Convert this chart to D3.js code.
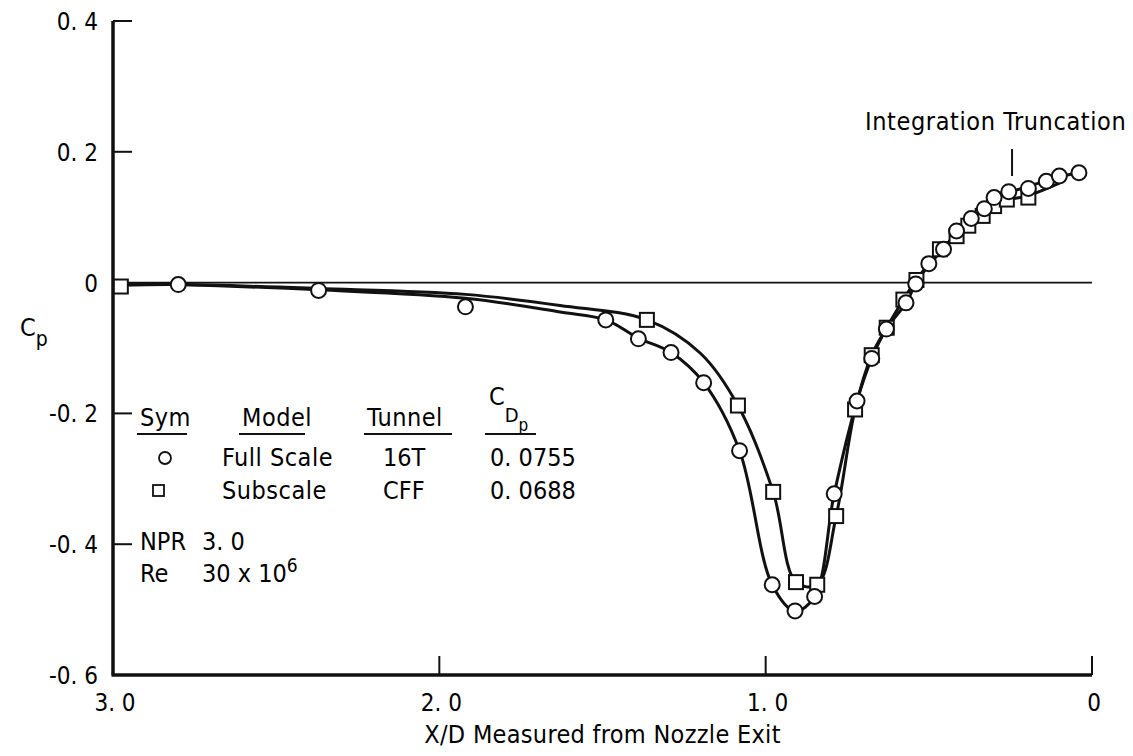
<!DOCTYPE html>
<html>
<head>
<meta charset="utf-8">
<script src="https://cdn.jsdelivr.net/npm/d3@7"></script>
<style>
  body { margin: 0; background: #fff; }
  text { font-family: 'DejaVu Sans Condensed', 'DejaVu Sans', sans-serif; fill: #000; }
</style>
</head>
<body>
<script>
// Full Scale (16T) measured points, circles
const fullX = [2.80, 2.37, 1.92, 1.49, 1.39, 1.29, 1.19, 1.08, 0.98, 0.91, 0.85, 0.79, 0.72, 0.675, 0.63, 0.57, 0.54, 0.50, 0.455, 0.415, 0.37, 0.33, 0.30, 0.255, 0.195, 0.14, 0.10, 0.04];
const fullCp = [-0.003, -0.012, -0.037, -0.057, -0.086, -0.107, -0.153, -0.257, -0.462, -0.502, -0.480, -0.323, -0.181, -0.116, -0.071, -0.031, -0.002, 0.029, 0.051, 0.079, 0.098, 0.113, 0.130, 0.139, 0.144, 0.155, 0.163, 0.168];

// Subscale (CFF) measured points, squares
const subX = [2.976, 1.364, 1.085, 0.977, 0.907, 0.842, 0.784, 0.726, 0.675, 0.629, 0.578, 0.538, 0.466, 0.415, 0.379, 0.335, 0.300, 0.261, 0.195];
const subCp = [-0.006, -0.057, -0.188, -0.320, -0.458, -0.462, -0.357, -0.194, -0.111, -0.069, -0.026, 0.004, 0.051, 0.071, 0.087, 0.102, 0.117, 0.127, 0.130];

// faired curves
const fullCurveX = [3.0, 2.80, 2.37, 1.92, 1.63, 1.49, 1.39, 1.29, 1.19, 1.08, 0.98, 0.91, 0.85, 0.79, 0.72, 0.675, 0.63, 0.57, 0.54, 0.50, 0.455, 0.415, 0.37, 0.33, 0.30, 0.255, 0.195, 0.14, 0.10, 0.04];
const fullCurveCp = [-0.001, -0.003, -0.011, -0.024, -0.045, -0.057, -0.085, -0.107, -0.153, -0.257, -0.462, -0.502, -0.480, -0.323, -0.181, -0.116, -0.071, -0.031, -0.002, 0.027, 0.052, 0.077, 0.097, 0.113, 0.128, 0.138, 0.147, 0.156, 0.162, 0.168];
const subCurveX = [2.976, 2.80, 2.37, 1.92, 1.63, 1.364, 1.2, 1.085, 0.977, 0.907, 0.842, 0.784, 0.726, 0.675, 0.629, 0.578, 0.538, 0.466, 0.415, 0.379, 0.335, 0.300, 0.261, 0.195, 0.10];
const subCurveCp = [-0.004, -0.003, -0.009, -0.018, -0.035, -0.057, -0.108, -0.188, -0.320, -0.458, -0.462, -0.357, -0.194, -0.111, -0.069, -0.026, 0.004, 0.049, 0.071, 0.087, 0.102, 0.116, 0.126, 0.133, 0.152];

const xTicks = [3.0, 2.0, 1.0, 0];
const xTickLabels = ['3. 0', '2. 0', '1. 0', '0'];
const yTicks = [0.4, 0.2, 0, -0.2, -0.4, -0.6];
const yTickLabels = ['0. 4', '0. 2', '0', '-0. 2', '-0. 4', '-0. 6'];

const legendHead = ['Sym', 'Model', 'Tunnel'];
const legendModel = ['Full Scale', 'Subscale'];
const legendTunnel = ['16T', 'CFF'];
const legendCdp = ['0. 0755', '0. 0688'];
const truncationX = 0.245;

const width = 1133;
const height = 756;

const svg = d3.select('body').append('svg')
  .attr('width', width)
  .attr('height', height);

svg.append('rect').attr('width', width).attr('height', height).attr('fill', '#fff');

const x = d3.scaleLinear().domain([3, 0]).range([113, 1092]);
const y = d3.scaleLinear().domain([-0.6, 0.4]).range([675, 21]);

// axes frame: left and bottom only
svg.append('line')
  .attr('x1', x(3)).attr('x2', x(3))
  .attr('y1', y(0.4)).attr('y2', y(-0.6))
  .attr('stroke', '#111').attr('stroke-width', 3.5);
svg.append('line')
  .attr('x1', x(3) - 1.5).attr('x2', x(0))
  .attr('y1', y(-0.6)).attr('y2', y(-0.6))
  .attr('stroke', '#111').attr('stroke-width', 3.5);

// zero line
svg.append('line')
  .attr('x1', x(3)).attr('x2', x(0))
  .attr('y1', y(0)).attr('y2', y(0))
  .attr('stroke', '#111').attr('stroke-width', 1.8);

// ticks point inward
yTicks.filter(d => d !== 0 && d !== -0.6).forEach(d => {
  svg.append('line')
    .attr('x1', x(3)).attr('x2', x(3) + 19)
    .attr('y1', y(d)).attr('y2', y(d))
    .attr('stroke', '#111').attr('stroke-width', 2);
});
xTicks.filter(d => d !== 3).forEach(d => {
  svg.append('line')
    .attr('x1', x(d)).attr('x2', x(d))
    .attr('y1', y(-0.6)).attr('y2', y(-0.6) - 19)
    .attr('stroke', '#111').attr('stroke-width', 2);
});

yTicks.forEach((d, i) => {
  svg.append('text')
    .attr('x', 98)
    .attr('y', y(d) + 9)
    .attr('text-anchor', 'end')
    .attr('font-size', 24)
    .text(yTickLabels[i]);
});
xTicks.forEach((d, i) => {
  svg.append('text')
    .attr('x', x(d) + 2)
    .attr('y', 711)
    .attr('text-anchor', 'middle')
    .attr('font-size', 24)
    .text(xTickLabels[i]);
});

svg.append('text')
  .attr('x', (x(3) + x(0)) / 2)
  .attr('y', 743)
  .attr('text-anchor', 'middle')
  .attr('font-size', 25)
  .attr('letter-spacing', 0.3)
  .text('X/D Measured from Nozzle Exit');

// Cp label
const cp = svg.append('text').attr('x', 20).attr('y', 336).attr('font-size', 25);
cp.append('tspan').text('C');
cp.append('tspan').attr('dy', 10).attr('font-size', 21).text('p');

// curves
const line = d3.line()
  .x(d => x(d[0]))
  .y(d => y(d[1]))
  .curve(d3.curveCatmullRom.alpha(0.5));

svg.append('path')
  .datum(fullCurveX.map((v, i) => [v, fullCurveCp[i]]))
  .attr('d', line)
  .attr('fill', 'none').attr('stroke', '#111').attr('stroke-width', 3);
svg.append('path')
  .datum(subCurveX.map((v, i) => [v, subCurveCp[i]]))
  .attr('d', line)
  .attr('fill', 'none').attr('stroke', '#111').attr('stroke-width', 3);

// markers
const sq = 14;
svg.selectAll('rect.sub')
  .data(subX.map((v, i) => [v, subCp[i]]))
  .join('rect')
  .attr('class', 'sub')
  .attr('x', d => x(d[0]) - sq / 2)
  .attr('y', d => y(d[1]) - sq / 2)
  .attr('width', sq).attr('height', sq)
  .attr('fill', '#fff').attr('stroke', '#111').attr('stroke-width', 2);

svg.selectAll('circle.full')
  .data(fullX.map((v, i) => [v, fullCp[i]]))
  .join('circle')
  .attr('class', 'full')
  .attr('cx', d => x(d[0]))
  .attr('cy', d => y(d[1]))
  .attr('r', 7.5)
  .attr('fill', '#fff').attr('stroke', '#111').attr('stroke-width', 2);

// integration truncation marker
svg.append('line')
  .attr('x1', x(truncationX)).attr('x2', x(truncationX))
  .attr('y1', 149).attr('y2', 176)
  .attr('stroke', '#111').attr('stroke-width', 2);
svg.append('text')
  .attr('x', 865).attr('y', 130)
  .attr('font-size', 25)
  .attr('letter-spacing', 0.6)
  .text('Integration Truncation');

// legend
const colX = [140, 242, 367];
const colW = [50, 66, 88];
legendHead.forEach((t, i) => {
  svg.append('text').attr('x', colX[i]).attr('y', 426).attr('font-size', 25).attr('letter-spacing', 0.5).text(t);
  svg.append('line')
    .attr('x1', colX[i] - 3).attr('x2', colX[i] - 3 + colW[i])
    .attr('y1', 434).attr('y2', 434)
    .attr('stroke', '#111').attr('stroke-width', 1.8);
});
const cdp = svg.append('text').attr('x', 489).attr('y', 405).attr('font-size', 25);
cdp.append('tspan').text('C');
cdp.append('tspan').attr('dy', 17).attr('font-size', 20).text('D');
cdp.append('tspan').attr('dy', 9).attr('font-size', 17).text('p');
svg.append('line')
  .attr('x1', 485).attr('x2', 536)
  .attr('y1', 434).attr('y2', 434)
  .attr('stroke', '#111').attr('stroke-width', 1.8);

const rowY = [466, 499];
svg.append('circle').attr('cx', 165).attr('cy', rowY[0] - 8).attr('r', 6)
  .attr('fill', '#fff').attr('stroke', '#111').attr('stroke-width', 1.8);
svg.append('rect').attr('x', 153).attr('y', rowY[1] - 14).attr('width', 11).attr('height', 11)
  .attr('fill', '#fff').attr('stroke', '#111').attr('stroke-width', 1.8);
legendModel.forEach((t, i) => {
  svg.append('text').attr('x', 222).attr('y', rowY[i]).attr('font-size', 25).attr('letter-spacing', 0.5).text(t);
  svg.append('text').attr('x', 383).attr('y', rowY[i]).attr('font-size', 25).text(legendTunnel[i]);
  svg.append('text').attr('x', 490).attr('y', rowY[i]).attr('font-size', 25).text(legendCdp[i]);
});

svg.append('text').attr('x', 140).attr('y', 550).attr('font-size', 25).text('NPR');
svg.append('text').attr('x', 202).attr('y', 550).attr('font-size', 25).text('3. 0');
svg.append('text').attr('x', 140).attr('y', 582).attr('font-size', 25).text('Re');
const re = svg.append('text').attr('x', 202).attr('y', 582).attr('font-size', 25);
re.append('tspan').text('30 x 10');
re.append('tspan').attr('dy', -10).attr('font-size', 19).text('6');
</script>
</body>
</html>
